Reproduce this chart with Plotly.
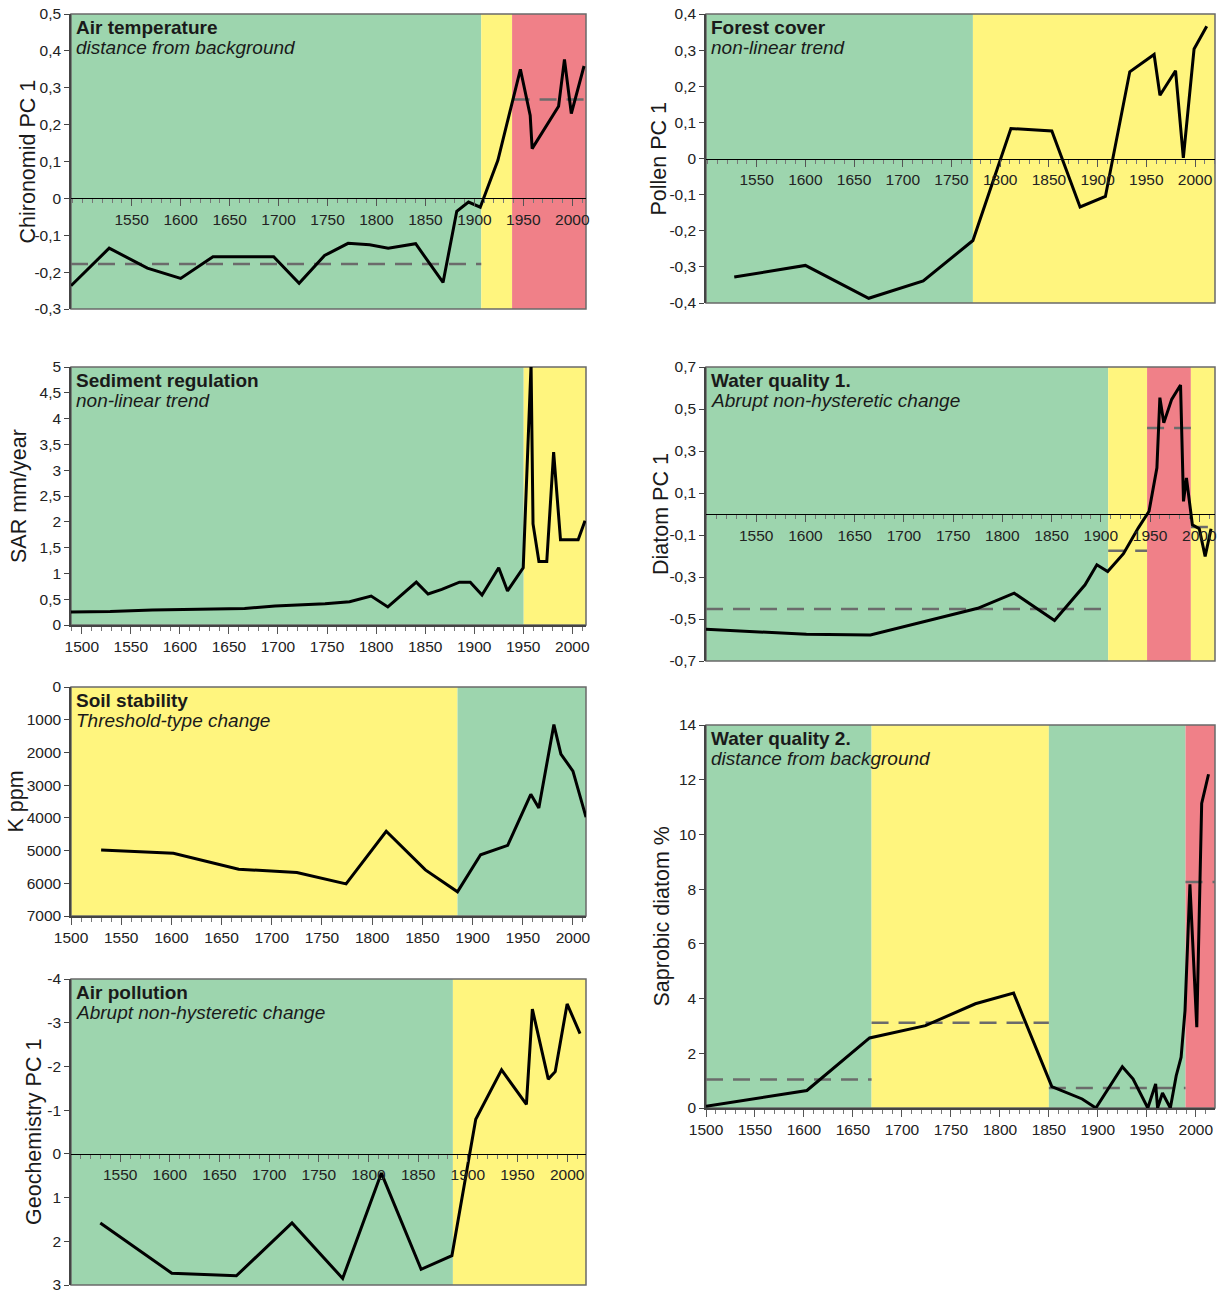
import plotly.graph_objects as go

W, H = 1219, 1290
FONT = "Liberation Sans, Arial, sans-serif"

GREEN = "#9dd5ae"
YELLOW = "#fff57e"
RED = "#f08088"

# ---------------- Air temperature (chironomids) ----------------
air_years = [1488, 1527, 1566, 1600, 1633, 1665, 1695, 1721, 1747, 1771, 1793, 1812,
             1840, 1868, 1882, 1894, 1906, 1924, 1947, 1957, 1959, 1986, 1992, 1999, 2012]
air_pc1 = [-0.237, -0.135, -0.189, -0.217, -0.158, -0.157, -0.158, -0.230, -0.155, -0.122,
           -0.126, -0.135, -0.123, -0.228, -0.035, -0.010, -0.024, 0.103, 0.350, 0.225,
           0.135, 0.250, 0.377, 0.230, 0.359]
air_zone_edges = [1488, 1907, 1938.5, 2014]
air_zone_colors = [GREEN, YELLOW, RED]
air_mean_start = [1488, 1939]
air_mean_end = [1907, 2014]
air_mean_level = [-0.178, 0.268]

# ---------------- Forest cover (pollen) ----------------
forest_years = [1527, 1600, 1665, 1721, 1772, 1811, 1853, 1882, 1908, 1933, 1958, 1964,
                1980, 1988, 1999, 2012]
forest_pc1 = [-0.328, -0.296, -0.387, -0.339, -0.227, 0.083, 0.076, -0.134, -0.105, 0.240,
              0.288, 0.175, 0.243, 0.002, 0.303, 0.366]
forest_zone_edges = [1498, 1772, 2020.5]
forest_zone_colors = [GREEN, YELLOW]

# ---------------- Sediment regulation (SAR) ----------------
sed_years = [1489, 1529, 1572, 1666, 1697, 1725, 1748, 1773, 1795, 1812, 1841, 1853, 1867,
             1885, 1896, 1908, 1925, 1934, 1950, 1958, 1960, 1966, 1974, 1981, 1988, 2006, 2013]
sed_sar = [0.25, 0.26, 0.29, 0.32, 0.37, 0.39, 0.41, 0.45, 0.56, 0.35, 0.83, 0.60, 0.69,
           0.83, 0.83, 0.58, 1.11, 0.66, 1.11, 5.05, 1.96, 1.23, 1.23, 3.35, 1.65, 1.65, 2.02]
sed_zone_edges = [1489, 1950.5, 2014]
sed_zone_colors = [GREEN, YELLOW]

# ---------------- Water quality 1 (diatom PC1) ----------------
diatom_years = [1499, 1601, 1666, 1775, 1812, 1853, 1884, 1896, 1907, 1923, 1938, 1949, 1957,
                1960, 1964, 1972, 1981, 1984, 1987, 1993, 2000, 2006, 2012]
diatom_pc1 = [-0.549, -0.573, -0.576, -0.449, -0.377, -0.507, -0.337, -0.242, -0.274, -0.189,
              -0.067, 0.013, 0.22, 0.554, 0.434, 0.546, 0.614, 0.06, 0.172, -0.051, -0.07,
              -0.202, -0.07]
diatom_zone_edges = [1499, 1907.5, 1947, 1991.5, 2016]
diatom_zone_colors = [GREEN, YELLOW, RED, YELLOW]
diatom_mean_start = [1499, 1907.5, 1947, 1991.5]
diatom_mean_end = [1907.5, 1947, 1991.5, 2016]
diatom_mean_level = [-0.452, -0.175, 0.41, -0.062]

# ---------------- Soil stability (K) ----------------
soil_years = [1530, 1602, 1667, 1725, 1774, 1814, 1853, 1885, 1908, 1935, 1958, 1966, 1981,
              1988, 2000, 2013]
soil_k = [4980, 5080, 5570, 5670, 6020, 4410, 5590, 6260, 5130, 4840, 3280, 3700, 1150,
          2050, 2570, 3980]
soil_zone_edges = [1500, 1885, 2013]
soil_zone_colors = [YELLOW, GREEN]

# ---------------- Air pollution (geochemistry PC1) ----------------
geo_years = [1530, 1602, 1667, 1723, 1774, 1813, 1853, 1884, 1908, 1934, 1959, 1965, 1981,
             1988, 2000, 2013]
geo_pc1 = [1.58, 2.73, 2.79, 1.58, 2.85, 0.44, 2.64, 2.33, -0.79, -1.92, -1.13, -3.31, -1.71,
           -1.88, -3.43, -2.75]
geo_zone_edges = [1500.5, 1885, 2019]
geo_zone_colors = [GREEN, YELLOW]

# ---------------- Water quality 2 (saprobic diatoms) ----------------
sap_years = [1500, 1603, 1667, 1724, 1775, 1814, 1853, 1884, 1898, 1925, 1936, 1951, 1959,
             1961, 1966, 1974, 1980, 1985, 1989, 1994, 2001, 2006, 2013]
sap_pct = [0.06, 0.64, 2.56, 3.01, 3.81, 4.2, 0.78, 0.33, 0.0, 1.51, 1.06, 0.0, 0.88, 0.0,
           0.55, 0.0, 1.18, 1.86, 3.56, 8.18, 2.95, 11.13, 12.2]
sap_zone_edges = [1500, 1669, 1850, 1989.5, 2019.6]
sap_zone_colors = [GREEN, YELLOW, GREEN, RED]
sap_mean_start = [1500, 1669, 1850, 1989.5]
sap_mean_end = [1669, 1850, 1989.5, 2019.6]
sap_mean_level = [1.04, 3.12, 0.73, 8.26]

# ---------------- tick labels ----------------
years_from_1550 = [1550, 1600, 1650, 1700, 1750, 1800, 1850, 1900, 1950, 2000]
years_from_1500 = [1500] + years_from_1550
air_ticks = [-0.3, -0.2, -0.1, 0, 0.1, 0.2, 0.3, 0.4, 0.5]
air_ticklabels = ["-0,3", "-0,2", "-0,1", "0", "0,1", "0,2", "0,3", "0,4", "0,5"]
forest_ticks = [-0.4, -0.3, -0.2, -0.1, 0, 0.1, 0.2, 0.3, 0.4]
forest_ticklabels = ["-0,4", "-0,3", "-0,2", "-0,1", "0", "0,1", "0,2", "0,3", "0,4"]
sed_ticks = [0, 0.5, 1, 1.5, 2, 2.5, 3, 3.5, 4, 4.5, 5]
sed_ticklabels = ["0", "0,5", "1", "1,5", "2", "2,5", "3", "3,5", "4", "4,5", "5"]
diatom_ticks = [-0.7, -0.5, -0.3, -0.1, 0.1, 0.3, 0.5, 0.7]
diatom_ticklabels = ["-0,7", "-0,5", "-0,3", "-0,1", "0,1", "0,3", "0,5", "0,7"]
soil_ticks = [0, 1000, 2000, 3000, 4000, 5000, 6000, 7000]
soil_ticklabels = ["0", "1000", "2000", "3000", "4000", "5000", "6000", "7000"]
geo_ticks = [-4, -3, -2, -1, 0, 1, 2, 3]
geo_ticklabels = ["-4", "-3", "-2", "-1", "0", "1", "2", "3"]
sap_ticks = [0, 2, 4, 6, 8, 10, 12, 14]
sap_ticklabels = ["0", "2", "4", "6", "8", "10", "12", "14"]

panels = [
    dict(box=(71, 586, 14, 309), xr=[1488, 2014], yr=[-0.3, 0.5], zero_axis=True,
         xt=years_from_1550, yt=air_ticks, ytl=air_ticklabels,
         x=air_years, y=air_pc1, edges=air_zone_edges, colors=air_zone_colors,
         means=(air_mean_start, air_mean_end, air_mean_level),
         title="Air temperature", subtitle="distance from background",
         ytitle="Chironomid PC 1", ytitle_x=27),
    dict(box=(706, 1215, 14, 303), xr=[1498, 2020.5], yr=[-0.4, 0.4], zero_axis=True,
         xt=years_from_1550, yt=forest_ticks, ytl=forest_ticklabels,
         x=forest_years, y=forest_pc1, edges=forest_zone_edges, colors=forest_zone_colors,
         means=None, title="Forest cover", subtitle="non-linear trend",
         ytitle="Pollen PC 1", ytitle_x=658),
    dict(box=(71, 586, 367, 625), xr=[1489, 2014], yr=[0, 5], zero_axis=False,
         xt=years_from_1500, yt=sed_ticks, ytl=sed_ticklabels,
         x=sed_years, y=sed_sar, edges=sed_zone_edges, colors=sed_zone_colors,
         means=None, title="Sediment regulation", subtitle="non-linear trend",
         ytitle="SAR mm/year", ytitle_x=19),
    dict(box=(706, 1215, 367, 661), xr=[1499, 2016], yr=[-0.7, 0.7], zero_axis=True,
         xt=years_from_1550, yt=diatom_ticks, ytl=diatom_ticklabels,
         x=diatom_years, y=diatom_pc1, edges=diatom_zone_edges, colors=diatom_zone_colors,
         means=(diatom_mean_start, diatom_mean_end, diatom_mean_level),
         title="Water quality 1.", subtitle="Abrupt non-hysteretic change",
         ytitle="Diatom PC 1", ytitle_x=661),
    dict(box=(71, 586, 687, 916), xr=[1500, 2013], yr=[7000, 0], zero_axis=False,
         xt=years_from_1500, yt=soil_ticks, ytl=soil_ticklabels,
         x=soil_years, y=soil_k, edges=soil_zone_edges, colors=soil_zone_colors,
         means=None, title="Soil stability", subtitle="Threshold-type change",
         ytitle="K ppm", ytitle_x=15),
    dict(box=(71, 586, 979, 1285), xr=[1500.5, 2019], yr=[3, -4], zero_axis=True,
         xt=years_from_1550, yt=geo_ticks, ytl=geo_ticklabels,
         x=geo_years, y=geo_pc1, edges=geo_zone_edges, colors=geo_zone_colors,
         means=None, title="Air pollution", subtitle="Abrupt non-hysteretic change",
         ytitle="Geochemistry PC 1", ytitle_x=34),
    dict(box=(706, 1215, 725, 1108), xr=[1500, 2019.6], yr=[0, 14], zero_axis=False,
         xt=years_from_1500, yt=sap_ticks, ytl=sap_ticklabels,
         x=sap_years, y=sap_pct, edges=sap_zone_edges, colors=sap_zone_colors,
         means=(sap_mean_start, sap_mean_end, sap_mean_level),
         title="Water quality 2.", subtitle="distance from background",
         ytitle="Saprobic diatom %", ytitle_x=661),
]

fig = go.Figure()
shapes, annotations = [], []
layout = dict(
    width=W, height=H, autosize=False, margin=dict(l=0, r=0, t=0, b=0, pad=0),
    paper_bgcolor="white", plot_bgcolor="white", showlegend=False,
    font=dict(family=FONT, size=15, color="#222"),
)

for i, p in enumerate(panels, start=1):
    xa = "x" if i == 1 else f"x{i}"
    ya = "y" if i == 1 else f"y{i}"
    xkey = "xaxis" if i == 1 else f"xaxis{i}"
    ykey = "yaxis" if i == 1 else f"yaxis{i}"
    left, right, top, bottom = p["box"]
    xd = [left / W, right / W]
    yd = [1 - bottom / H, 1 - top / H]

    xaxis = dict(
        domain=xd, range=p["xr"], automargin=False, tickmode="array", tickvals=p["xt"],
        ticktext=[str(v) for v in p["xt"]], ticks="outside", ticklen=7, tickwidth=1,
        tickcolor="#555", showline=True, linecolor="black", linewidth=1,
        showgrid=False, zeroline=False, tickfont=dict(size=15.5, color="#222"),
        ticklabeloverflow="allow",
        minor=dict(ticks="outside", ticklen=4, tickwidth=1, tickcolor="#777",
                   dtick=10, tick0=1500, showgrid=False),
    )
    if p["zero_axis"]:
        r0, r1 = p["yr"]
        frac = (0 - r0) / (r1 - r0)
        xaxis.update(anchor="free", position=yd[0] + frac * (yd[1] - yd[0]))
    else:
        xaxis.update(anchor=ya, linecolor="#444", linewidth=1.5)
    layout[xkey] = xaxis

    layout[ykey] = dict(
        domain=yd, range=p["yr"], anchor=xa, automargin=False, tickmode="array",
        tickvals=p["yt"], ticktext=p["ytl"], ticks="outside", ticklen=5, tickwidth=1,
        tickcolor="#444", showline=True, linecolor="#444", linewidth=1.5, showgrid=False,
        zeroline=False, tickfont=dict(size=15.5, color="#222"), ticklabeloverflow="allow",
    )

    # coloured state zones
    for k, col in enumerate(p["colors"]):
        shapes.append(dict(type="rect", xref=xa, yref=f"{ya} domain",
                           x0=p["edges"][k], x1=p["edges"][k + 1], y0=0, y1=1,
                           fillcolor=col, line=dict(width=0), layer="below"))
    # panel frame
    shapes.append(dict(type="rect", xref=f"{xa} domain", yref=f"{ya} domain",
                       x0=0, x1=1, y0=0, y1=1, line=dict(color="#6a6a6a", width=1.5),
                       fillcolor="rgba(0,0,0,0)", layer="below"))

    # zone means
    if p["means"] is not None:
        mx, my = [], []
        for s, e, lv in zip(*p["means"]):
            mx += [s, e, None]
            my += [lv, lv, None]
        fig.add_trace(go.Scatter(x=mx, y=my, mode="lines", xaxis=xa, yaxis=ya,
                                 line=dict(color="#6b6b6b", width=2.5, dash="17px,10px"),
                                 hoverinfo="skip"))

    fig.add_trace(go.Scatter(x=p["x"], y=p["y"], mode="lines", xaxis=xa, yaxis=ya,
                             line=dict(color="black", width=3)))

    annotations.append(dict(text=f"<b>{p['title']}</b>", xref=f"{xa} domain",
                            yref=f"{ya} domain", x=0, y=1, xanchor="left", yanchor="middle",
                            xshift=3, yshift=-13, showarrow=False,
                            font=dict(family=FONT, size=19, color="#1a1a1a")))
    annotations.append(dict(text=f"<i>{p['subtitle']}</i>", xref=f"{xa} domain",
                            yref=f"{ya} domain", x=0, y=1, xanchor="left", yanchor="middle",
                            xshift=3, yshift=-33, showarrow=False,
                            font=dict(family=FONT, size=19, color="#1a1a1a")))
    annotations.append(dict(text=p["ytitle"], xref="paper", yref=f"{ya} domain",
                            x=p["ytitle_x"] / W, y=0.5, xanchor="center", yanchor="middle",
                            textangle=-90, showarrow=False,
                            font=dict(family=FONT, size=21.5, color="#1a1a1a")))

layout["shapes"] = shapes
layout["annotations"] = annotations
fig.update_layout(**layout)
fig.write_html("out.html")
